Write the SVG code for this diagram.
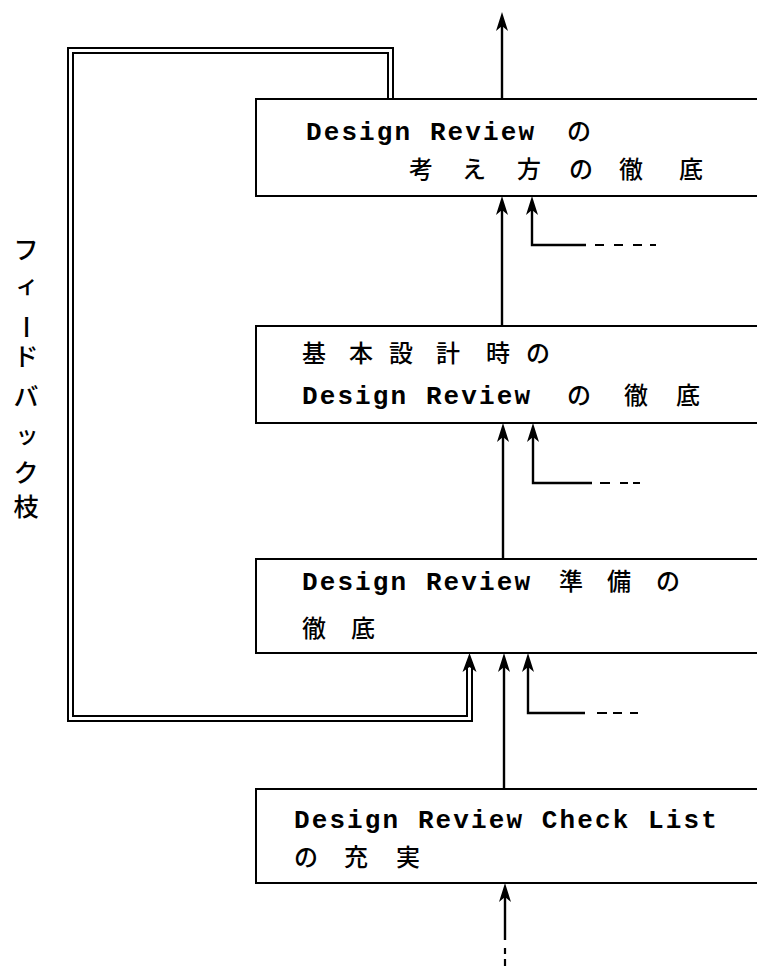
<svg xmlns="http://www.w3.org/2000/svg" xmlns:xlink="http://www.w3.org/1999/xlink" width="757" height="966" viewBox="0 0 757 966">
<style>
.box{fill:#fff;stroke:#000;stroke-width:2}
.ln{fill:none;stroke:#000;stroke-width:2.4}
.fb{fill:none;stroke:#000;stroke-width:2}
.dash{fill:none;stroke:#000;stroke-width:2.2}
.lat{font-family:"Liberation Mono","DejaVu Sans Mono",monospace;font-weight:bold;font-size:26px;letter-spacing:2.1px;fill:#000}
.cjk{font-family:"Noto Sans CJK JP","Noto Sans CJK SC",sans-serif;font-weight:500;font-size:24px;fill:#000}
.vt{font-family:"Noto Sans CJK JP","Noto Sans CJK SC",sans-serif;font-weight:500;font-size:25px;fill:#000;text-anchor:middle}
.vs{font-family:"Noto Sans CJK JP","Noto Sans CJK SC",sans-serif;font-weight:500;font-size:23px;fill:#000;text-anchor:middle}
</style>
<defs>
<path id="ah" d="M0,0 L-6,19 L0,14 L6,19 Z" fill="#000"/>
<path id="ah2" d="M0,0 L-7,19 L0,14 L7,19 Z" fill="#000"/>
</defs>
<rect width="757" height="966" fill="#fff"/>

<g id="connectors">
<line class="ln" x1="502" y1="99" x2="502" y2="20"/>
<use xlink:href="#ah" x="502" y="12"/>
<line class="ln" x1="502" y1="326" x2="502" y2="206"/>
<use xlink:href="#ah" x="502" y="196"/>
<polyline class="ln" points="586,245 532,245 532,206"/>
<use xlink:href="#ah" x="532" y="196"/>
<path class="dash" d="M595,245H604M614,245H623M633,245H642M650,245H656"/>
<line class="ln" x1="503" y1="559" x2="503" y2="433"/>
<use xlink:href="#ah" x="503" y="423"/>
<polyline class="ln" points="592,483 533,483 533,433"/>
<use xlink:href="#ah" x="533" y="423"/>
<path class="dash" d="M600,483H610M620,483H628M633,483H640"/>
<line class="ln" x1="504" y1="789" x2="504" y2="663"/>
<use xlink:href="#ah" x="504" y="653"/>
<polyline class="ln" points="585,713 528,713 528,663"/>
<use xlink:href="#ah" x="528" y="653"/>
<path class="dash" d="M597,713H607M613,713H622M630,713H638"/>
<line class="ln" x1="505" y1="940" x2="505" y2="893"/>
<use xlink:href="#ah" x="505" y="883"/>
<path class="dash" d="M505,948V954M505,959V966"/>
<polyline class="fb" points="393,99 393,48 68,48 68,721 472,721 472,662"/>
<polyline class="fb" points="388,99 388,53 73,53 73,716 467,716 467,662"/>
<use xlink:href="#ah2" x="469.5" y="653"/>
</g>

<g id="feedback-label">
<text class="vt" x="26" y="259">フ</text>
<text class="vs" x="27" y="293">ィ</text>
<text class="vt" transform="translate(26,327) rotate(90)" x="0" y="9">ー</text>
<text class="vt" x="26" y="366">ド</text>
<text class="vt" x="26" y="406">バ</text>
<text class="vs" x="27" y="443">ッ</text>
<text class="vt" x="26" y="482">ク</text>
<text class="vt" x="26" y="516">枝</text>
</g>

<g id="node1">
<rect class="box" x="256" y="99" width="520" height="97"/>
<text class="lat" x="306" y="140">Design Review</text>
<text class="cjk" x="567" y="140">の</text>
<text class="cjk" y="178"><tspan x="409">考</tspan><tspan x="462">え</tspan><tspan x="517">方</tspan><tspan x="569">の</tspan><tspan x="619">徹</tspan><tspan x="679">底</tspan></text>
</g>

<g id="node2">
<rect class="box" x="256" y="326" width="520" height="97"/>
<text class="cjk" y="362"><tspan x="302">基</tspan><tspan x="349">本</tspan><tspan x="389">設</tspan><tspan x="436">計</tspan><tspan x="486">時</tspan><tspan x="526">の</tspan></text>
<text class="lat" x="302" y="404">Design Review</text>
<text class="cjk" y="404"><tspan x="567">の</tspan><tspan x="624">徹</tspan><tspan x="676">底</tspan></text>
</g>

<g id="node3">
<rect class="box" x="256" y="559" width="520" height="94"/>
<text class="lat" x="302" y="590">Design Review</text>
<text class="cjk" y="590"><tspan x="559">準</tspan><tspan x="607">備</tspan><tspan x="656">の</tspan></text>
<text class="cjk" y="637"><tspan x="302">徹</tspan><tspan x="351">底</tspan></text>
</g>

<g id="node4">
<rect class="box" x="256" y="789" width="520" height="94"/>
<text class="lat" x="294" y="828">Design Review Check List</text>
<text class="cjk" y="866"><tspan x="294">の</tspan><tspan x="344">充</tspan><tspan x="396">実</tspan></text>
</g>
</svg>
